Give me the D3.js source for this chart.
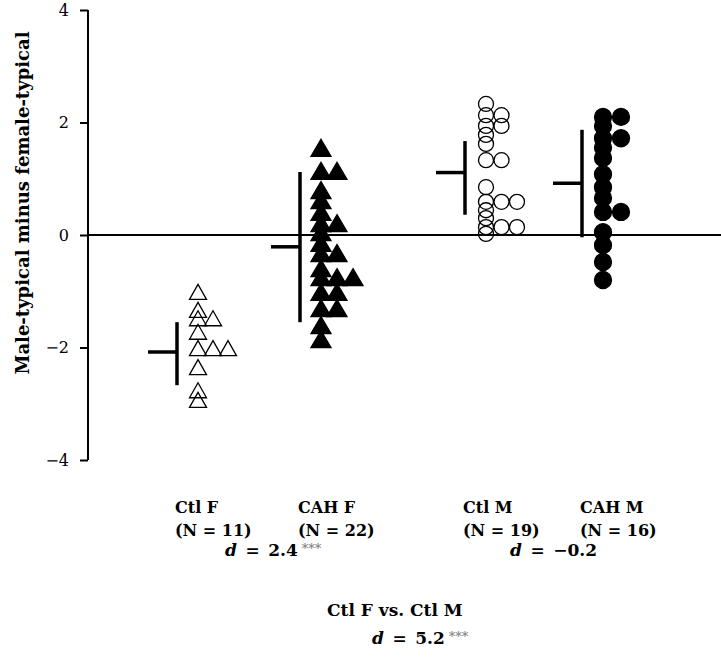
<!DOCTYPE html>
<html>
<head>
<meta charset="utf-8">
<script src="https://cdn.jsdelivr.net/npm/d3@7"></script>
<style>
  body { margin: 0; background: #fff; }
  svg { display: block; font-family: "DejaVu Serif", "Liberation Serif", serif; }
</style>
</head>
<body>
<svg id="chart" width="721" height="668"></svg>
<script>
// data
var groups = ["Ctl F", "CAH F", "Ctl M", "CAH M"];
var groupN = [11, 22, 19, 16];

var ctlF = [-1.01, -1.33, -1.48, -1.48, -1.72, -2.01, -2.01, -2.01, -2.35, -2.76, -2.93];
var cahF = [1.55, 1.14, 1.14, 0.80, 0.62, 0.41, 0.21, 0.21, 0.05, -0.14, -0.32, -0.32,
            -0.59, -0.75, -0.75, -0.75, -1.01, -1.01, -1.30, -1.30, -1.60, -1.85];
var ctlM = [2.33, 2.13, 2.13, 1.94, 1.94, 1.78, 1.62, 1.33, 1.33, 0.85, 0.59, 0.59, 0.59,
            0.44, 0.30, 0.14, 0.14, 0.14, 0.02];
var cahM = [2.10, 2.10, 1.94, 1.72, 1.72, 1.55, 1.37, 1.08, 0.85, 0.66, 0.41, 0.41,
            0.05, -0.18, -0.48, -0.80];

// mean and the vertical bar ends (as drawn)
var groupMean = [-2.08, -0.21, 1.11, 0.92];
var barLow = [-2.67, -1.55, 0.36, -0.04];
var barHigh = [-1.55, 1.12, 1.67, 1.87];

var yTicks = [-4, -2, 0, 2, 4];
var effectLeft = "2.4", effectRight = "\u22120.2", effectCtl = "5.2";

// ------------------------------------------------------------------
var svg = d3.select("#chart");
var values = [ctlF, cahF, ctlM, cahM];

var y = d3.scaleLinear().domain([-4, 4]).range([460, 10]);
// group column positions (uneven spacing like the original)
var x = d3.scaleOrdinal().domain(groups).range([198, 321, 486, 603]);

// marker looks per group
var looks = [
  { shape: "tri", w: 17, h: 15, fill: "none", dx: 15 },
  { shape: "tri", w: 20, h: 17, fill: "#000", dx: 16 },
  { shape: "circ", r: 7.5, fill: "none", dx: 15.5 },
  { shape: "circ", r: 8.5, fill: "#000", dx: 18 }
];

function triPath(w, h) {
  return "M0," + (-h / 2) + "L" + (w / 2) + "," + (h / 2) + "L" + (-w / 2) + "," + (h / 2) + "Z";
}

// y axis
var yAxis = d3.axisLeft(y).tickValues(yTicks).tickSize(8).tickPadding(11)
  .tickFormat(function(d) { return d < 0 ? "\u2212" + Math.abs(d) : d; });
var ax = svg.append("g").attr("transform", "translate(88,0)").call(yAxis);
ax.attr("font-family", "DejaVu Serif").attr("font-size", 16);
ax.select(".domain").attr("stroke-width", 2).attr("d", "M0," + y(4) + "V" + y(-4));
ax.selectAll(".tick line").attr("stroke-width", 2);
ax.selectAll(".tick text").attr("fill", "#000");

// zero line
svg.append("line")
  .attr("x1", 88).attr("x2", 721)
  .attr("y1", y(0)).attr("y2", y(0))
  .attr("stroke", "#000").attr("stroke-width", 1.8);

svg.append("text")
  .attr("transform", "translate(29,203) rotate(-90)")
  .attr("text-anchor", "middle")
  .attr("font-size", 18).attr("font-weight", "bold")
  .text("Male-typical minus female-typical");

// points; ties get pushed sideways
groups.forEach(function(g, i) {
  var look = looks[i];
  var seen = {};
  var pts = values[i].map(function(v) {
    var k = seen[v] || 0;
    seen[v] = k + 1;
    return { v: v, k: k };
  });
  var cx = x(g);
  var gg = svg.append("g");
  if (look.shape == "tri") {
    gg.selectAll("path").data(pts).join("path")
      .attr("d", triPath(look.w, look.h))
      .attr("transform", function(d) { return "translate(" + (cx + d.k * look.dx) + "," + y(d.v) + ")"; })
      .attr("fill", look.fill)
      .attr("stroke", "#000").attr("stroke-width", 1.3);
  } else {
    gg.selectAll("circle").data(pts).join("circle")
      .attr("cx", function(d) { return cx + d.k * look.dx; })
      .attr("cy", function(d) { return y(d.v); })
      .attr("r", look.r)
      .attr("fill", look.fill)
      .attr("stroke", "#000").attr("stroke-width", 1.3);
  }

  // mean + bar
  var bx = cx - 21;
  svg.append("line")
    .attr("x1", bx).attr("x2", bx)
    .attr("y1", y(barHigh[i])).attr("y2", y(barLow[i]))
    .attr("stroke", "#000").attr("stroke-width", 3.5);
  svg.append("line")
    .attr("x1", bx - 29).attr("x2", bx)
    .attr("y1", y(groupMean[i])).attr("y2", y(groupMean[i]))
    .attr("stroke", "#000").attr("stroke-width", 3.5);

  // labels under the plot
  var lab = svg.append("text")
    .attr("font-size", 16).attr("font-weight", "bold");
  lab.append("tspan").attr("x", cx - 23).attr("y", 513).text(g);
  lab.append("tspan").attr("x", cx - 23).attr("y", 536).text("(N = " + groupN[i] + ")");
});

function dLabel(x0, yy, val, stars) {
  var t = svg.append("text").attr("x", x0).attr("y", yy)
    .attr("font-size", 17).attr("font-weight", "bold");
  t.append("tspan").attr("font-style", "italic").text("d");
  t.append("tspan").text("\u2002=\u2002" + val);
  if (stars) t.append("tspan").attr("font-size", 13).attr("font-weight", "normal")
    .attr("fill", "#777").attr("dy", -3).text(" ***");
}

dLabel(225, 556, effectLeft, true);
dLabel(510, 556, effectRight, false);

svg.append("text").attr("x", 327).attr("y", 616)
  .attr("font-size", 17).attr("font-weight", "bold")
  .text("Ctl F vs. Ctl M");
dLabel(372, 644, effectCtl, true);
</script>
</body>
</html>
